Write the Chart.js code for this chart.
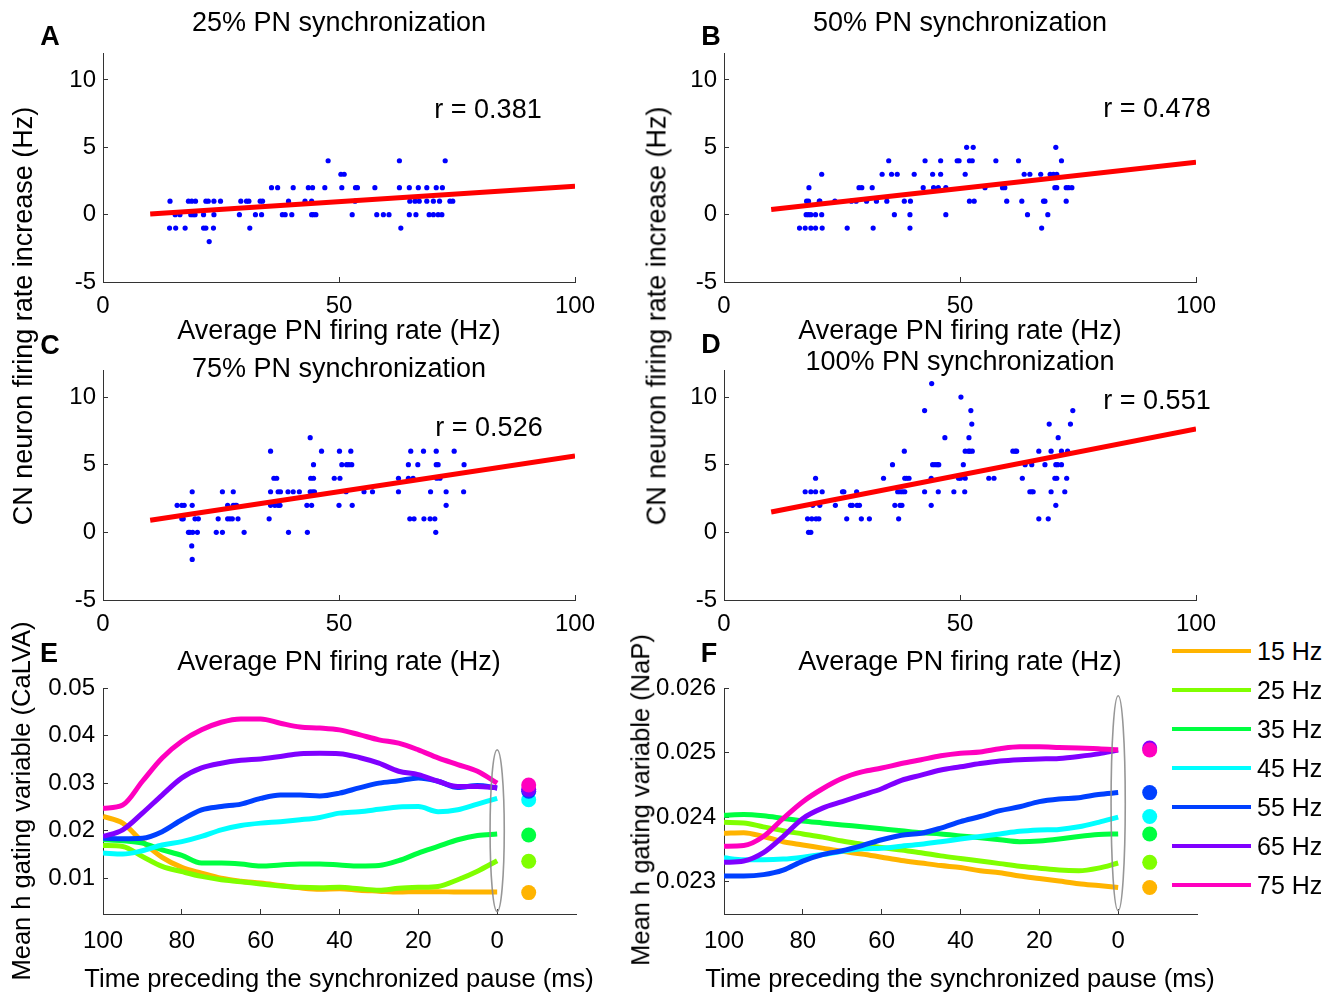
<!DOCTYPE html>
<html>
<head>
<meta charset="utf-8">
<script src="https://cdn.jsdelivr.net/npm/chart.js@4/dist/chart.umd.min.js"></script>
<style>
body { margin: 0; background: #fff; }
#fig { position: relative; width: 1330px; height: 993px; overflow: hidden; font-family: 'Liberation Sans', Arial, sans-serif; color: #000; }
#fig canvas { position: absolute; }
.t { position: absolute; white-space: nowrap; font-size: 27px; line-height: 1; transform: translate(-50%, -50%); }
.rot { transform: translate(-50%, -50%) rotate(-90deg); }
.lab { font-weight: bold; }
.key { position: absolute; height: 4px; width: 79px; }
.keyt { position: absolute; font-size: 25px; line-height: 1; transform: translateY(-50%); white-space: nowrap; }
</style>
</head>
<body>
<div id="fig">
  <canvas id="chartA"></canvas>
  <canvas id="chartB"></canvas>
  <canvas id="chartC"></canvas>
  <canvas id="chartD"></canvas>
  <canvas id="chartE"></canvas>
  <canvas id="chartF"></canvas>
</div>
<script>
// ---- data ----
// scatter panels: [CN rate increase (Hz), [average PN rate (Hz) of each cell]]
var ptsA = [
  [-2, [22.5]],
  [-1, [14.1, 15.4, 17.4, 21.3, 21.8, 23.4, 31.1, 63.1]],
  [0, [15.3, 16.3, 18.6, 19.1, 19.5, 21.3, 23.5, 28.9, 32.3, 33.6, 38.0, 38.6, 40.0, 44.2, 44.6, 45.1, 52.8, 58.0, 59.4, 60.6, 64.9, 66.3, 69.1, 70.0, 71.0, 71.8]],
  [1, [14.2, 18.1, 18.8, 19.6, 21.8, 22.3, 23.5, 24.9, 29.2, 30.4, 30.9, 33.3, 33.8, 39.3, 42.8, 44.2, 53.4, 65.0, 66.1, 67.0, 68.6, 70.0, 71.3, 73.5, 74.1]],
  [2, [35.7, 37.0, 40.3, 43.5, 44.4, 47.0, 50.6, 53.5, 53.9, 57.6, 62.8, 64.9, 66.8, 68.6, 70.6, 71.9]],
  [3, [50.4, 51.1]],
  [4, [47.7, 62.8, 72.5]]
];
var ptsB = [
  [-1, [16.0, 17.2, 18.4, 19.4, 20.8, 26.1, 31.6, 39.4, 67.3]],
  [0, [17.4, 17.9, 18.4, 19.4, 20.7, 36.1, 39.4, 47.0, 64.3, 68.6]],
  [1, [17.5, 17.9, 20.2, 20.3, 23.5, 27.0, 28.0, 30.2, 32.3, 34.5, 38.2, 39.5, 52.0, 53.0, 59.9, 63.1, 67.7, 68.0, 72.5]],
  [2, [18.0, 28.6, 29.2, 31.4, 42.2, 44.4, 45.4, 47.0, 55.3, 59.0, 59.5, 70.1, 70.5, 72.5, 73.0, 73.7]],
  [3, [20.7, 33.5, 35.5, 36.7, 40.3, 44.2, 45.9, 51.1, 63.6, 64.8, 67.1, 69.1, 69.8, 70.5]],
  [4, [34.9, 42.6, 45.9, 49.4, 49.8, 52.0, 52.6, 57.6, 62.4, 71.5]],
  [5, [51.4, 52.8, 70.3]]
];
var ptsC = [
  [-2, [18.9]],
  [-1, [18.8]],
  [0, [18.1, 18.4, 19.0, 20.0, 24.0, 25.3, 29.9, 39.3, 43.3, 70.5]],
  [1, [16.7, 17.0, 19.5, 20.2, 24.4, 26.4, 26.9, 27.4, 28.6, 35.2, 65.0, 65.9, 68.0, 69.3, 70.3]],
  [2, [15.7, 16.7, 17.2, 18.9, 26.4, 27.6, 28.0, 28.3, 35.5, 36.4, 37.1, 37.5, 43.2, 44.2, 50.0, 52.8, 72.7]],
  [3, [18.9, 25.3, 27.6, 35.5, 37.1, 37.6, 39.2, 40.3, 41.6, 43.9, 44.4, 44.8, 51.5, 55.3, 57.1, 62.6, 69.4, 72.7, 76.4]],
  [4, [36.2, 36.8, 44.0, 44.6, 49.0, 50.2, 62.6, 64.7, 65.7, 70.7, 71.4]],
  [5, [44.6, 50.6, 51.6, 52.1, 52.7, 64.7, 66.7, 70.6, 71.0, 76.5]],
  [6, [35.5, 46.3, 50.1, 52.5, 65.2, 67.9, 70.6, 74.4]],
  [7, [43.9]]
];
var ptsD = [
  [0, [17.9, 18.4]],
  [1, [17.7, 18.6, 19.5, 20.1, 26.0, 29.1, 30.8, 37.0, 66.7, 68.7]],
  [2, [18.8, 20.3, 23.6, 26.8, 27.2, 28.2, 28.7, 36.2, 37.3, 37.7, 43.9, 70.3]],
  [3, [17.2, 18.4, 19.4, 20.8, 25.1, 25.4, 28.1, 36.8, 37.3, 37.8, 38.3, 42.5, 45.4, 48.7, 51.0, 64.8, 65.2, 65.5, 69.3, 72.2]],
  [4, [19.4, 33.8, 38.3, 38.7, 39.2, 43.9, 49.7, 50.1, 51.1, 56.1, 57.2, 63.2, 70.1, 70.5, 72.6]],
  [5, [35.7, 44.2, 44.7, 45.2, 45.5, 50.7, 63.8, 65.2, 68.0, 70.3, 70.7, 71.5]],
  [6, [38.2, 51.1, 51.8, 52.1, 52.6, 61.2, 61.7, 62.0, 66.7, 69.3, 71.5, 72.8]],
  [7, [46.8, 51.9, 70.8]],
  [8, [52.5, 68.9, 73.4]],
  [9, [42.5, 52.3, 73.9]],
  [10, [50.2]],
  [11, [44.0]]
];
// regression lines, value at each end of fitRate
var fitRate = [10, 100];
var fitA = [0.05, 2.1];
var fitB = [0.38, 3.9];
var fitC = [0.9, 5.65];
var fitD = [1.5, 7.65];
var rValues = ['0.381', '0.478', '0.526', '0.551'];

var rateTicks = [0, 50, 100];
var incTicks = [-5, 0, 5, 10];

// gating traces, one value every 5 ms from 100 ms to 0 ms before the pause
var timeMs = [100, 95, 90, 85, 80, 75, 70, 65, 60, 55, 50, 45, 40, 35, 30, 25, 20, 15, 10, 5, 0];
var freqLabels = ['15 Hz', '25 Hz', '35 Hz', '45 Hz', '55 Hz', '65 Hz', '75 Hz'];
var freqColors = ['#ffb400', '#80ff00', '#00ff40', '#00ffff', '#0040ff', '#8000ff', '#ff00bf'];

var cal15 = [0.0230, 0.0216, 0.0177, 0.0144, 0.0123, 0.0111, 0.0100, 0.0094, 0.0090, 0.0085, 0.0080, 0.0077, 0.0078, 0.0075, 0.0073, 0.0071, 0.0072, 0.0072, 0.0071, 0.0071, 0.0071];
var cal25 = [0.0169, 0.0167, 0.0146, 0.0125, 0.0114, 0.0104, 0.0097, 0.0093, 0.0088, 0.0084, 0.0081, 0.0080, 0.0081, 0.0078, 0.0075, 0.0079, 0.0081, 0.0083, 0.0097, 0.0115, 0.0137];
var cal35 = [0.0181, 0.0179, 0.0174, 0.0160, 0.0148, 0.0132, 0.0132, 0.0130, 0.0126, 0.0128, 0.0130, 0.0130, 0.0128, 0.0126, 0.0127, 0.0137, 0.0153, 0.0167, 0.0181, 0.0190, 0.0193];
var cal45 = [0.0153, 0.0151, 0.0158, 0.0170, 0.0177, 0.0188, 0.0202, 0.0211, 0.0216, 0.0219, 0.0223, 0.0228, 0.0237, 0.0240, 0.0245, 0.0250, 0.0251, 0.0240, 0.0244, 0.0256, 0.0268];
var cal55 = [0.0184, 0.0183, 0.0184, 0.0198, 0.0223, 0.0244, 0.0251, 0.0256, 0.0268, 0.0275, 0.0275, 0.0273, 0.0279, 0.0290, 0.0300, 0.0305, 0.0311, 0.0304, 0.0291, 0.0295, 0.0290];
var cal65 = [0.0188, 0.0202, 0.0237, 0.0275, 0.0311, 0.0332, 0.0342, 0.0348, 0.0351, 0.0356, 0.0362, 0.0363, 0.0362, 0.0354, 0.0342, 0.0325, 0.0318, 0.0304, 0.0293, 0.0293, 0.0290];
var cal75 = [0.0247, 0.0254, 0.0304, 0.0353, 0.0388, 0.0412, 0.0428, 0.0435, 0.0435, 0.0426, 0.0418, 0.0416, 0.0412, 0.0402, 0.0391, 0.0384, 0.0370, 0.0353, 0.0339, 0.0325, 0.0300];
var calDots = [0.0070, 0.0136, 0.0191, 0.0265, 0.0283, 0.0287, 0.0296];

var nap15 = [0.02375, 0.02376, 0.02370, 0.02362, 0.02357, 0.02352, 0.02347, 0.02343, 0.02338, 0.02333, 0.02329, 0.02325, 0.02322, 0.02317, 0.02314, 0.02309, 0.02305, 0.02301, 0.02297, 0.02294, 0.02291];
var nap25 = [0.02392, 0.02391, 0.02385, 0.02379, 0.02374, 0.02369, 0.02363, 0.02358, 0.02353, 0.02349, 0.02345, 0.02340, 0.02336, 0.02332, 0.02328, 0.02324, 0.02321, 0.02318, 0.02317, 0.02321, 0.02329];
var nap35 = [0.02403, 0.02404, 0.02402, 0.02398, 0.02394, 0.02391, 0.02388, 0.02385, 0.02382, 0.02379, 0.02376, 0.02374, 0.02371, 0.02368, 0.02365, 0.02362, 0.02363, 0.02366, 0.02370, 0.02373, 0.02374];
var nap45 = [0.02337, 0.02334, 0.02334, 0.02335, 0.02338, 0.02342, 0.02347, 0.02351, 0.02352, 0.02355, 0.02358, 0.02362, 0.02366, 0.02370, 0.02374, 0.02378, 0.02380, 0.02381, 0.02385, 0.02392, 0.02400];
var nap55 = [0.02309, 0.02309, 0.02311, 0.02318, 0.02332, 0.02342, 0.02348, 0.02356, 0.02365, 0.02372, 0.02375, 0.02383, 0.02393, 0.02401, 0.02410, 0.02416, 0.02424, 0.02428, 0.02430, 0.02435, 0.02438];
var nap65 = [0.02330, 0.02332, 0.02345, 0.02370, 0.02398, 0.02414, 0.02424, 0.02434, 0.02444, 0.02457, 0.02465, 0.02473, 0.02478, 0.02483, 0.02487, 0.02489, 0.02490, 0.02491, 0.02494, 0.02498, 0.02504];
var nap75 = [0.02355, 0.02356, 0.02370, 0.02398, 0.02424, 0.02444, 0.02460, 0.02470, 0.02476, 0.02483, 0.02489, 0.02495, 0.02499, 0.02501, 0.02506, 0.02509, 0.02509, 0.02508, 0.02507, 0.02506, 0.02504];
var napDots = [0.02291, 0.02330, 0.02374, 0.02401, 0.02438, 0.02507, 0.02504];

var dotTime = -8;          // ms, where the end-value dots sit
var ringCal = [0.0030, 0.0370];
var ringNap = [0.02255, 0.02588];
var timeTicks = [100, 80, 60, 40, 20, 0];
var calTicks = [0.01, 0.02, 0.03, 0.04, 0.05];
var napTicks = [0.023, 0.024, 0.025, 0.026];

// ---- layout ----
var FONT = "'Liberation Sans', Arial, sans-serif";
var PAD_L = 90, PAD_R = 50, PAD_T = 40, PAD_B = 55;

function place(id, box) {
    var c = document.getElementById(id);
    c.width = box[2] - box[0] + PAD_L + PAD_R;
    c.height = box[3] - box[1] + PAD_T + PAD_B;
    c.style.left = (box[0] - PAD_L) + 'px';
    c.style.top = (box[1] - PAD_T) + 'px';
    return c.getContext('2d');
}

function axis(min, max, ticks, horizontal, pad, extra) {
    var a = {
        type: 'linear',
        min: min,
        max: max,
        border: { color: '#333', width: 1 },
        grid: { drawOnChartArea: false, color: '#333', tickLength: -5 },
        ticks: {
            color: '#000',
            font: { family: FONT, size: 24 },
            padding: pad,
            maxRotation: 0,
            autoSkip: false,
            callback: function (v) { return String(v); }
        },
        afterBuildTicks: function (s) {
            s.ticks = ticks.map(function (v) { return { value: v }; });
        },
        afterFit: function (s) {
            if (horizontal) s.height = PAD_B; else s.width = PAD_L;
        }
    };
    return Object.assign(a, extra || {});
}

// grey ring around the pause (t = 0)
var pauseRing = {
    id: 'pauseRing',
    afterDatasetsDraw: function (chart, args, o) {
        if (!o.span) return;
        var x = chart.scales.x, y = chart.scales.y, ctx = chart.ctx;
        var cx = x.getPixelForValue(0);
        var rx = Math.abs(x.getPixelForValue(1.8) - cx);
        var y1 = y.getPixelForValue(o.span[0]), y2 = y.getPixelForValue(o.span[1]);
        ctx.save();
        ctx.strokeStyle = 'rgba(140,140,140,0.9)';
        ctx.lineWidth = 1.6;
        ctx.beginPath();
        ctx.ellipse(cx, (y1 + y2) / 2, rx, Math.abs(y1 - y2) / 2, 0, 0, 2 * Math.PI);
        ctx.stroke();
        ctx.restore();
    }
};

var common = {
    responsive: false,
    animation: false,
    layout: { padding: { left: 0, right: PAD_R, top: PAD_T, bottom: 0 } },
    plugins: { legend: { display: false }, tooltip: { enabled: false } }
};

function scatterChart(id, box, pts, fit) {
    var cells = [];
    pts.forEach(function (g) {
        g[1].forEach(function (r) { cells.push({ x: r, y: g[0] }); });
    });
    return new Chart(place(id, box), {
        type: 'scatter',
        data: {
            datasets: [{
                type: 'line',
                data: [{ x: fitRate[0], y: fit[0] }, { x: fitRate[1], y: fit[1] }],
                borderColor: '#ff0000',
                borderWidth: 5,
                pointRadius: 0,
                order: 0
            }, {
                data: cells,
                backgroundColor: '#0000ff',
                borderWidth: 0,
                pointRadius: 2.6,
                order: 1
            }]
        },
        options: Object.assign({}, common, {
            scales: {
                x: axis(0, 100, rateTicks, true, 15),
                y: axis(-5, 12, incTicks, false, 12)
            }
        })
    });
}

function traceChart(id, box, series, dots, ring, ymin, ymax, yticks) {
    var sets = series.map(function (vals, i) {
        return {
            label: freqLabels[i],
            data: vals.map(function (v, k) { return { x: timeMs[k], y: v }; }),
            borderColor: freqColors[i],
            borderWidth: 5,
            pointRadius: 0,
            cubicInterpolationMode: 'monotone',
            order: 10 - i
        };
    });
    sets.push({
        type: 'scatter',
        data: dots.map(function (v) { return { x: dotTime, y: v }; }),
        backgroundColor: freqColors,
        borderWidth: 0,
        pointRadius: 7.5,
        order: 0
    });
    return new Chart(place(id, box), {
        type: 'line',
        data: { datasets: sets },
        plugins: [pauseRing],
        options: Object.assign({}, common, {
            plugins: { legend: { display: false }, tooltip: { enabled: false }, pauseRing: { span: ring } },
            scales: {
                x: axis(-20, 100, timeTicks, true, 18, { reverse: true }),
                y: axis(ymin, ymax, yticks, false, 13)
            }
        })
    });
}

scatterChart('chartA', [103, 53, 575, 282], ptsA, fitA);
scatterChart('chartB', [724, 53, 1196, 282], ptsB, fitB);
scatterChart('chartC', [103, 370, 575, 600], ptsC, fitC);
scatterChart('chartD', [724, 370, 1196, 600], ptsD, fitD);
traceChart('chartE', [103, 688, 576, 914], [cal15, cal25, cal35, cal45, cal55, cal65, cal75], calDots, ringCal, 0.0025, 0.05, calTicks);
traceChart('chartF', [724, 688, 1197, 914], [nap15, nap25, nap35, nap45, nap55, nap65, nap75], napDots, ringNap, 0.0225, 0.026, napTicks);

// ---- text ----
var fig = document.getElementById('fig');
function text(s, x, y, cls, size) {
    var d = document.createElement('div');
    d.className = 't' + (cls ? ' ' + cls : '');
    d.textContent = s;
    d.style.left = x + 'px';
    d.style.top = y + 'px';
    if (size) d.style.fontSize = size + 'px';
    fig.appendChild(d);
}
text('A', 50, 36, 'lab'); text('B', 711, 36, 'lab');
text('C', 50, 345, 'lab'); text('D', 711, 344, 'lab');
text('E', 49, 653, 'lab'); text('F', 709, 653, 'lab');

text('25% PN synchronization', 339, 22);
text('50% PN synchronization', 960, 22);
text('75% PN synchronization', 339, 368);
text('100% PN synchronization', 960, 361);

text('Average PN firing rate (Hz)', 339, 330);
text('Average PN firing rate (Hz)', 960, 330);
text('Average PN firing rate (Hz)', 339, 661);
text('Average PN firing rate (Hz)', 960, 661);
text('Time preceding the synchronized pause (ms)', 339, 979, '', 25.5);
text('Time preceding the synchronized pause (ms)', 960, 979, '', 25.5);

text('CN neuron firing rate increase (Hz)', 23, 316, 'rot');
text('CN neuron firing rate increase (Hz)', 657, 316, 'rot');
text('Mean h gating variable (CaLVA)', 22, 801, 'rot', 25.5);
text('Mean h gating variable (NaP)', 641, 800, 'rot', 25.5);

text('r = ' + rValues[0], 488, 109);
text('r = ' + rValues[1], 1157, 108);
text('r = ' + rValues[2], 489, 427);
text('r = ' + rValues[3], 1157, 400);

// legend
freqLabels.forEach(function (lab, i) {
    var y = 651 + i * 39;
    var k = document.createElement('div');
    k.className = 'key';
    k.style.left = '1172px';
    k.style.top = (y - 2) + 'px';
    k.style.background = freqColors[i];
    fig.appendChild(k);
    var t = document.createElement('div');
    t.className = 'keyt';
    t.textContent = lab;
    t.style.left = '1257px';
    t.style.top = y + 'px';
    fig.appendChild(t);
});
</script>
</body>
</html>
